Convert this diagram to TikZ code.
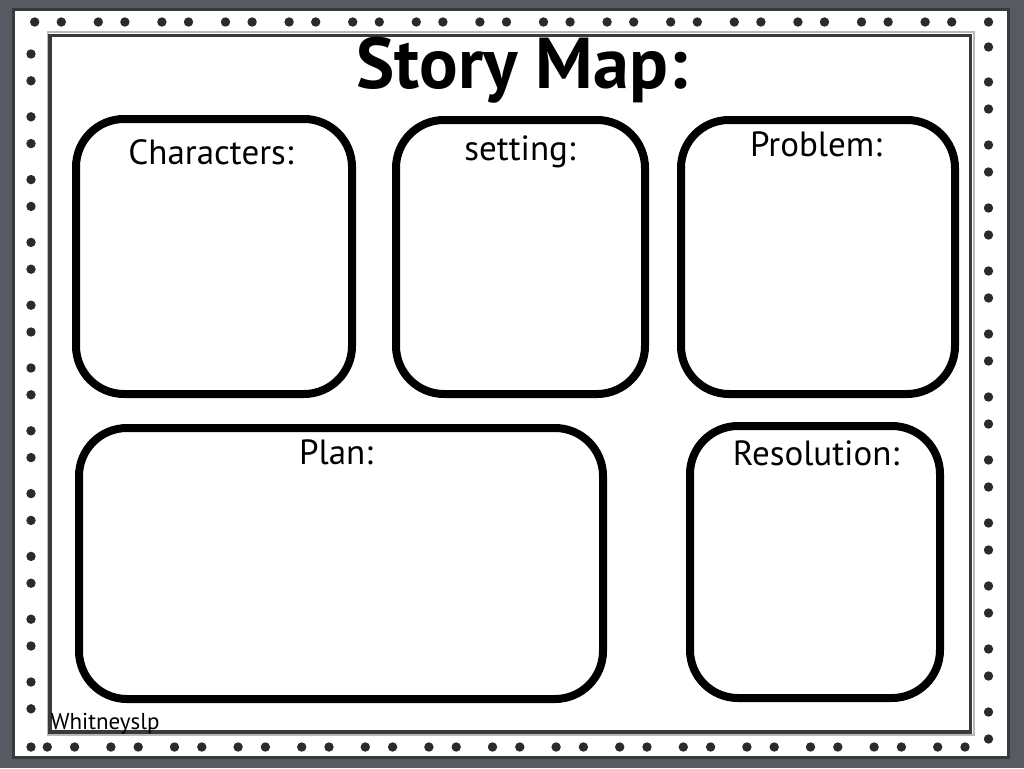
\documentclass[tikz,border=0pt]{standalone}
\usepackage{fontspec}
\setmainfont{PT Sans}
\usepackage{tikz}
\definecolor{slate}{HTML}{575A62}
\definecolor{dotgray}{HTML}{2B2B2B}
\definecolor{rimgray}{HTML}{3A3A3A}

\begin{document}
\begin{tikzpicture}
          [x = 1pt, y = -1pt,
           panel/.style = {draw, line width = 8pt, rounded corners = 48pt, inner sep = 0pt},
           heading/.style = {anchor = base, font = \fontsize{35}{40}\selectfont},
           spot/.style = {fill = dotgray}]
          \fill[slate] (0,0) rectangle (1024,768);
          \useasboundingbox (0,0) rectangle (1024,768);
          \draw[rimgray, line width = 3pt, fill = white] (13.5,9.5) rectangle (1008,757);
          % dotted border
          \foreach \k in {0,...,14} {
            \fill[spot] ({34.7 + 63.6*\k},22) circle (4.7pt);
            \fill[spot] ({61.3 + 63.6*\k},22) circle (4.7pt);
            \fill[spot] ({47.3 + 63.6*\k},747) circle (4.7pt);
            \fill[spot] ({74.6 + 63.6*\k},747) circle (4.7pt);
          }
          \foreach \k in {0,...,10} {
            \fill[spot] (31,{54 + 62.8*\k}) circle (4.7pt);
            \fill[spot] (31,{80.8 + 62.8*\k}) circle (4.7pt);
            \fill[spot] (988.5,{82 + 63*\k}) circle (4.7pt);
            \fill[spot] (988.5,{109 + 63*\k}) circle (4.7pt);
          }
          \fill[spot] (988.5,22) circle (4.7pt);
          \fill[spot] (988.5,47) circle (4.7pt);
          \fill[spot] (31,747) circle (4.7pt);
          % inner frame
          \draw[gray!55, line width = 2pt] (47.5,32.5) rectangle (973.5,734.5);
          \draw[rimgray, line width = 3.5pt] (50.2,35.5) rectangle (970.5,732);
          \node[anchor = base, font = \fontsize{72}{80}\selectfont\bfseries] (title) at (522,88) {Story Map:};
          % boxes
          \node[panel, minimum width = 276pt, minimum height = 275pt] (chars) at (214,256.5) {};
          \node[panel, minimum width = 249pt, minimum height = 274pt] (setting) at (520.5,257) {};
          \node[panel, minimum width = 274pt, minimum height = 274pt] (problem) at (818,257) {};
          \node[panel, minimum width = 524pt, minimum height = 271pt] (plan) at (341,563.5) {};
          \node[panel, minimum width = 250pt, minimum height = 272pt] (resolution) at (815,562) {};
          \node[heading] (charslbl) at (211,164) {Characters:};
          \node[heading] (settinglbl) at (520,160) {setting:};
          \node[heading] (problemlbl) at (816,156) {Problem:};
          \node[heading] (planlbl) at (336,464) {Plan:};
          \node[heading] (resolutionlbl) at (816,465) {Resolution:};
          \node[anchor = base, font = \fontsize{23}{26}\selectfont] (credit) at (105,729) {Whitneyslp};
        \end{tikzpicture}
\end{document}
